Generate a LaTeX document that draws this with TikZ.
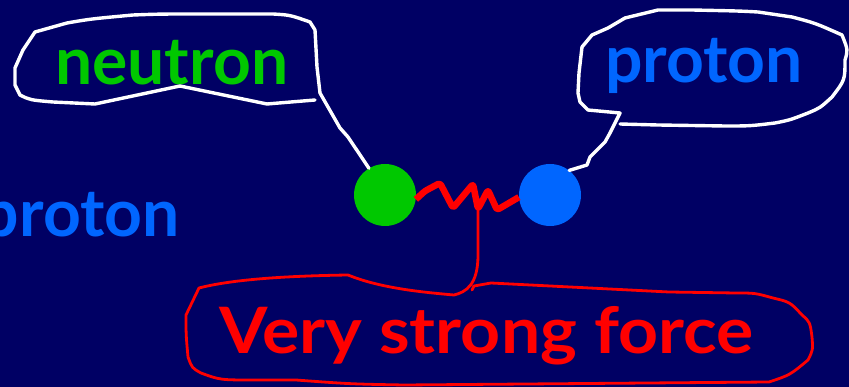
\documentclass[tikz,border=0pt]{standalone}
\usepackage{fontspec}
\setmainfont{Lato}
\newfontfamily\widelato[FakeStretch=1.09]{Lato}
\definecolor{bg}{RGB}{0,0,100}
\definecolor{ngreen}{RGB}{0,200,0}
\definecolor{pblue}{RGB}{0,102,255}
\definecolor{fred}{RGB}{255,0,0}
\tikzset{
  particle/.style={circle, inner sep=0pt, minimum size=62pt},
  label/.style={inner sep=0pt, font=\fontsize{66}{66}\selectfont\bfseries},
  wline/.style={white, line width=3.4pt, line join=round, line cap=round},
  rline/.style={fred, line width=2.8pt, line join=round, line cap=round},
  spring/.style={fred, line width=6.5pt, line join=round, rounded corners=2.5pt}
}
\begin{document}
\begin{tikzpicture}[x=1pt,y=-1pt]
\fill[bg] (0,0) rectangle (849,387);
\useasboundingbox (0,0) rectangle (849,387);
% particles
\node[particle, fill=ngreen] (n) at (385,195) {};
\node[particle, fill=pblue] (p) at (550,195) {};
% labels
\node[label, anchor=base west, text=ngreen] (nt) at (55,85) {neutron};
\node[label, anchor=base west, text=pblue] (pt) at (605,83) {proton};
\node[label, anchor=base east, text=pblue] (pl) at (180,237) {proton};
\node[label, anchor=base west, text=fred, font=\fontsize{64}{64}\widelato\bfseries] (ft) at (219,353) {Very strong force};
% spring
\coordinate (s) at (478,209);
\draw[spring] (n.-8) -- (425,191) -- (440,183) -- (453,208) -- (473,184) -- (s) -- (488,190) -- (497,210) -- (p.184);
% neutron callout
\draw[wline] (n.121) -- (348,137) -- (340,128) -- (320,93) -- (317,67) -- (315,30) -- (310,22)
  .. controls (290,15) .. (273,14) -- (200,14) .. controls (160,14) .. (133,15)
  .. controls (90,19) .. (67,23) -- (35,32) -- (23,50) -- (15,68) -- (15,85) -- (20,95)
  .. controls (30,100) .. (53,102) -- (95,104) -- (180,86) -- (267,104) -- (315,100);
% proton callout
\draw[wline] (p.52) -- (587,165) -- (590,157) -- (605,142) -- (610,133) -- (620,113)
  -- (588,110) -- (580,102) -- (578,93) -- (579,73) -- (582,47) -- (592,35) -- (608,28) -- (625,18)
  -- (658,10) -- (692,10) .. controls (740,11) .. (758,12) -- (792,17) .. controls (815,23) .. (842,35)
  .. controls (848,50) .. (845,60) .. controls (845,80) .. (832,97)
  .. controls (820,108) .. (808,113) .. controls (790,120) .. (775,123)
  .. controls (750,126) .. (725,126) -- (658,125) -- (620,124);
% force callout
\draw[rline] (s) -- (478,255) .. controls (478,285) and (466,292) .. (454,295)
  .. controls (420,292) and (380,288) .. (348,275)
  .. controls (280,276) and (230,280) .. (199,288)
  -- (186,315) .. controls (186,335) .. (188,357) .. controls (192,368) .. (201,373)
  .. controls (220,380) .. (255,380) -- (296,380) .. controls (350,384) .. (404,385)
  -- (769,382) .. controls (790,375) .. (808,360) .. controls (813,350) .. (812,337)
  .. controls (810,322) .. (802,315) .. controls (790,302) .. (773,298)
  .. controls (755,293) .. (736,293) -- (669,292) .. controls (580,288) .. (491,283)
  -- (474,286) -- (472,290);
\end{tikzpicture}
\end{document}
